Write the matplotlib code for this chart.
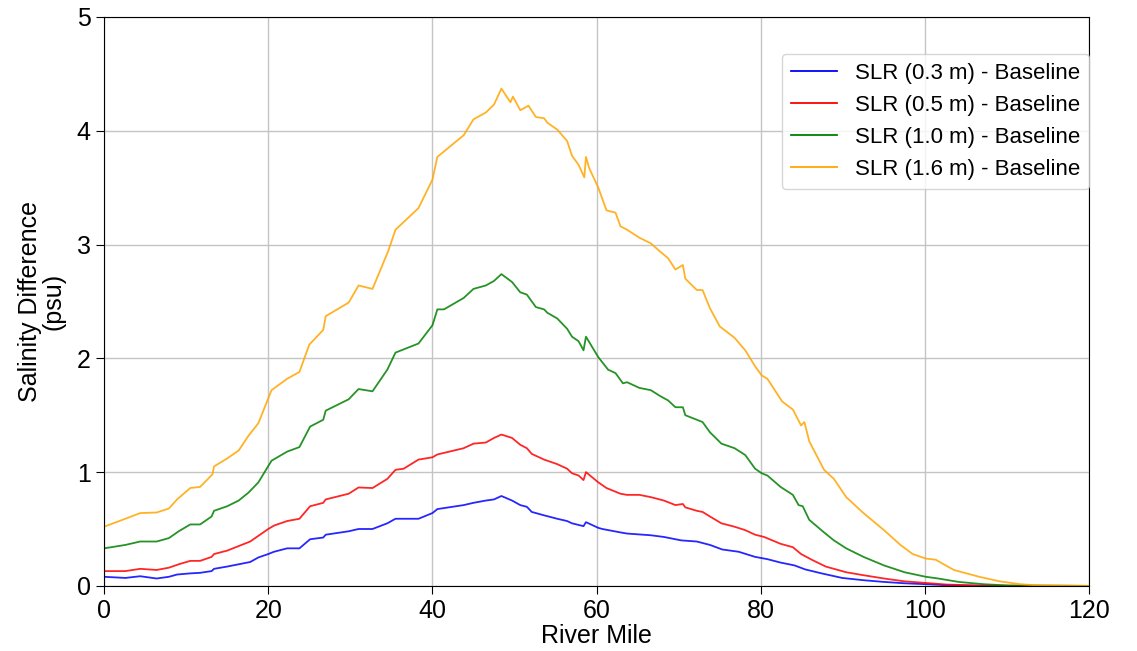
import matplotlib.pyplot as plt

plt.rcParams['font.family'] = ['Liberation Sans', 'DejaVu Sans']

# River mile / salinity difference values
mile_03 = [0, 2.6, 4.4, 6.4, 7.9, 8.9, 10.5, 11.7, 13.1, 13.4, 15, 16.4, 17.8, 18.8, 20.0, 20.7,
           22.3, 23.8, 25.1, 26.7, 27.0, 29.8, 31.0, 32.7, 34.5, 35.5, 38.3, 40.0, 40.6, 43.8,
           45.0, 46.5, 47.5, 48.4, 49.7, 50.7, 51.5, 52.1, 53.6, 55.2, 56.4, 57.0, 58.4, 58.7,
           60.2, 60.7, 62.9, 63.7, 66.6, 68.2, 70.3, 72.2, 73.8, 75.3, 77.3, 79.3, 80.8, 82.4,
           84.1, 85.4, 87.4, 89.9, 92.5, 95.0, 97.5, 100.1, 102.6, 107.6, 120]
slr_03 = [0.08, 0.07, 0.085, 0.065, 0.08, 0.10, 0.11, 0.115, 0.13, 0.15, 0.17, 0.19, 0.21, 0.25,
          0.28, 0.30, 0.33, 0.33, 0.41, 0.425, 0.45, 0.48, 0.50, 0.50, 0.55, 0.59, 0.59, 0.64,
          0.675, 0.71, 0.73, 0.75, 0.76, 0.79, 0.75, 0.71, 0.695, 0.65, 0.62, 0.59, 0.57, 0.55,
          0.525, 0.56, 0.51, 0.50, 0.47, 0.46, 0.445, 0.43, 0.40, 0.39, 0.36, 0.32, 0.30, 0.255,
          0.235, 0.205, 0.18, 0.145, 0.11, 0.07, 0.05, 0.035, 0.023, 0.015, 0.006, 0.0, 0.0]

mile_05 = [0, 2.6, 4.4, 6.4, 7.9, 9.1, 10.5, 11.7, 13.1, 13.4, 15, 16.4, 17.8, 18.8, 20.0, 20.7,
           22.3, 23.8, 25.1, 26.7, 27.0, 29.8, 31.0, 32.7, 34.5, 35.5, 36.5, 38.3, 40.0, 40.6,
           43.8, 45.0, 46.5, 47.5, 48.4, 49.7, 50.7, 51.5, 52.1, 53.6, 55.2, 56.4, 57.0, 57.8,
           58.4, 58.7, 60.2, 61.2, 62.9, 63.7, 65.2, 66.6, 68.2, 69.6, 70.5, 70.8, 72.2, 72.9,
           73.8, 75.2, 76.8, 78.1, 79.3, 80.4, 82.4, 83.9, 84.9, 86.2, 87.9, 90.4, 92.5, 95.0,
           97.5, 100.1, 102.6, 106.6, 120]
slr_05 = [0.13, 0.13, 0.15, 0.14, 0.16, 0.19, 0.22, 0.22, 0.255, 0.28, 0.31, 0.35, 0.39, 0.44,
          0.50, 0.53, 0.57, 0.59, 0.70, 0.73, 0.76, 0.81, 0.865, 0.86, 0.94, 1.02, 1.03, 1.11,
          1.13, 1.155, 1.21, 1.25, 1.26, 1.30, 1.33, 1.30, 1.24, 1.21, 1.16, 1.11, 1.07, 1.03,
          0.99, 0.97, 0.93, 1.00, 0.91, 0.86, 0.81, 0.80, 0.80, 0.78, 0.75, 0.71, 0.72, 0.69,
          0.66, 0.65, 0.61, 0.55, 0.52, 0.49, 0.45, 0.43, 0.37, 0.34, 0.28, 0.23, 0.17, 0.12,
          0.094, 0.065, 0.04, 0.026, 0.012, 0.003, 0.0]

mile_10 = [0, 2.6, 4.4, 6.4, 7.9, 9.1, 10.5, 11.7, 13.1, 13.4, 15, 16.4, 17.6, 18.8, 20.4, 22.3,
           23.8, 25.1, 26.7, 27.0, 29.8, 31.0, 32.7, 34.5, 35.5, 38.3, 40.0, 40.6, 41.4, 43.8,
           45.0, 46.5, 47.5, 48.4, 49.7, 50.7, 51.5, 52.6, 53.6, 54.0, 55.2, 56.4, 57.0, 57.8,
           58.4, 58.7, 60.2, 61.4, 62.3, 63.2, 63.7, 65.2, 66.6, 67.7, 68.7, 69.6, 70.5, 70.8,
           72.2, 72.9, 73.8, 75.2, 76.8, 78.1, 79.3, 80.1, 80.8, 82.4, 83.9, 84.6, 85.1, 85.9,
           87.7, 88.9, 90.4, 92.5, 95.0, 97.5, 100.1, 101.6, 104.1, 107.1, 110.2, 120]
slr_10 = [0.33, 0.36, 0.39, 0.39, 0.42, 0.48, 0.54, 0.54, 0.61, 0.66, 0.70, 0.75, 0.82, 0.91,
          1.10, 1.18, 1.22, 1.40, 1.46, 1.54, 1.64, 1.73, 1.71, 1.90, 2.05, 2.13, 2.29, 2.43,
          2.43, 2.53, 2.61, 2.64, 2.68, 2.74, 2.67, 2.58, 2.56, 2.45, 2.43, 2.40, 2.35, 2.26,
          2.19, 2.15, 2.07, 2.19, 2.01, 1.90, 1.87, 1.78, 1.79, 1.74, 1.72, 1.67, 1.63, 1.57,
          1.57, 1.50, 1.46, 1.44, 1.35, 1.25, 1.21, 1.15, 1.03, 0.99, 0.97, 0.87, 0.80, 0.71,
          0.70, 0.58, 0.47, 0.40, 0.33, 0.255, 0.18, 0.12, 0.08, 0.065, 0.035, 0.015, 0.003, 0.0]

mile_16 = [0, 2.6, 4.4, 6.4, 7.9, 8.9, 10.5, 11.7, 13.2, 13.4, 15, 16.4, 17.6, 18.8, 20.4, 22.3,
           23.8, 25.0, 26.7, 27.0, 29.8, 31.0, 32.7, 34.6, 35.5, 38.3, 40.0, 40.6, 43.8, 45.0,
           46.5, 47.5, 48.4, 49.5, 49.8, 50.7, 51.7, 52.6, 53.6, 54.0, 55.2, 56.4, 57.0, 57.8,
           58.5, 58.7, 59.1, 60.2, 61.2, 62.3, 62.9, 63.7, 65.2, 66.6, 67.7, 68.7, 69.6, 70.5,
           70.8, 72.2, 72.9, 73.8, 75.0, 76.8, 78.1, 79.3, 80.1, 80.8, 82.6, 83.9, 84.9, 85.3,
           85.9, 87.7, 88.9, 90.4, 92.5, 95.0, 97.0, 98.5, 100.1, 101.3, 103.5, 106.6, 109.1,
           111.6, 113.6, 120]
slr_16 = [0.52, 0.59, 0.64, 0.645, 0.68, 0.76, 0.86, 0.87, 0.98, 1.05, 1.12, 1.19, 1.32, 1.43,
          1.72, 1.82, 1.88, 2.12, 2.25, 2.37, 2.49, 2.64, 2.61, 2.94, 3.13, 3.32, 3.57, 3.77,
          3.96, 4.10, 4.16, 4.23, 4.37, 4.25, 4.30, 4.18, 4.22, 4.12, 4.11, 4.07, 4.01, 3.91,
          3.78, 3.70, 3.59, 3.77, 3.67, 3.50, 3.30, 3.28, 3.16, 3.13, 3.06, 3.01, 2.94, 2.88,
          2.78, 2.82, 2.70, 2.60, 2.60, 2.44, 2.28, 2.18, 2.07, 1.93, 1.85, 1.82, 1.62, 1.55,
          1.41, 1.44, 1.27, 1.02, 0.94, 0.78, 0.64, 0.49, 0.36, 0.28, 0.24, 0.23, 0.14, 0.08,
          0.04, 0.015, 0.005, 0.0]

fig, ax = plt.subplots(figsize=(11.37, 6.51), dpi=100)
fig.subplots_adjust(left=0.0915, right=0.958, top=0.974, bottom=0.1)

ax.plot(mile_03, slr_03, color='blue', lw=1.3, alpha=0.85, label='SLR (0.3 m) - Baseline')
ax.plot(mile_05, slr_05, color='red', lw=1.3, alpha=0.85, label='SLR (0.5 m) - Baseline')
ax.plot(mile_10, slr_10, color='green', lw=1.3, alpha=0.85, label='SLR (1.0 m) - Baseline')
ax.plot(mile_16, slr_16, color='orange', lw=1.3, alpha=0.85, label='SLR (1.6 m) - Baseline')

ax.set_xlim(0, 120)
ax.set_ylim(0, 5)
ax.set_xticks(range(0, 121, 20))
ax.set_yticks(range(0, 6))
ax.tick_params(labelsize=18, length=6)
ax.grid(True, color='#c4c4c4', lw=1)
ax.set_xlabel('River Mile', fontsize=18, labelpad=1)
ax.set_ylabel('Salinity Difference\n(psu)', fontsize=18, labelpad=8, linespacing=1.0)
leg = ax.legend(loc='upper right', bbox_to_anchor=(1.0, 0.935), borderaxespad=0,
                fontsize=16, handlelength=2.1, labelspacing=0.5)
for line in leg.get_lines():
    line.set_alpha(1)

plt.savefig('out.png')
